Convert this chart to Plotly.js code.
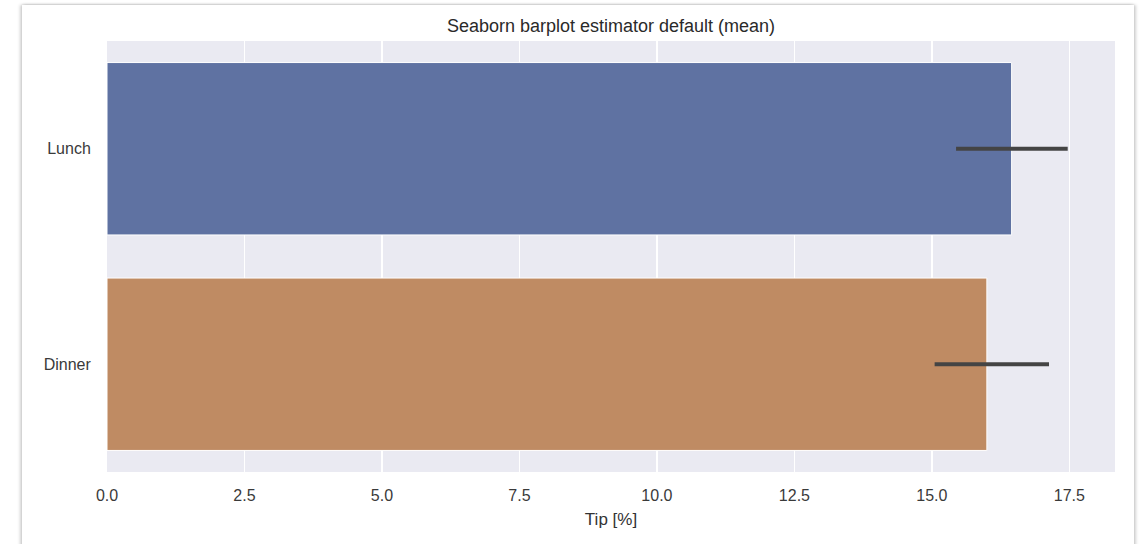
<!DOCTYPE html>
<html>
<head>
<meta charset="utf-8">
<script src="https://cdn.plot.ly/plotly-3.0.1.min.js"></script>
<style>
  html, body { margin: 0; padding: 0; background: #ffffff; }
  body { width: 1147px; height: 544px; position: relative; overflow: hidden; }
  #card {
    position: absolute; left: 22px; top: 5px; width: 1112px; height: 560px;
    background: #ffffff;
    box-shadow: -2px 0 3px rgba(0,0,0,0.18), 2px 0 3px rgba(0,0,0,0.18), 0 -1px 2px rgba(0,0,0,0.06);
  }
  #chart { position: absolute; left: 0; top: 0; width: 1147px; height: 544px; }
</style>
</head>
<body>
<div id="card"></div>
<div id="chart"></div>
<script>
// Mean tip percentage per meal time, with 95% confidence interval bounds
const categories = ["Lunch", "Dinner"];
const meanTip = [16.45, 16.0];
const ciLow = [15.44, 15.05];
const ciHigh = [17.47, 17.13];
const barColors = ["#5f72a2", "#bf8b63"];
const xTickVals = [0, 2.5, 5, 7.5, 10, 12.5, 15, 17.5];
const xTickText = ["0.0", "2.5", "5.0", "7.5", "10.0", "12.5", "15.0", "17.5"];

const trace = {
  type: "bar",
  orientation: "h",
  y: categories,
  x: meanTip,
  width: 0.8,
  marker: { color: barColors, line: { color: "#ffffff", width: 1 } },
  error_x: {
    type: "data",
    symmetric: false,
    array: meanTip.map((m, i) => ciHigh[i] - m),
    arrayminus: meanTip.map((m, i) => m - ciLow[i]),
    color: "#444444",
    thickness: 3.8,
    width: 0
  },
  hoverinfo: "x+y"
};

const font = "'Liberation Sans', Arial, sans-serif";

const layout = {
  width: 1147,
  height: 544,
  margin: { l: 107, r: 32, t: 41, b: 72 },
  paper_bgcolor: "rgba(0,0,0,0)",
  plot_bgcolor: "#eaeaf2",
  showlegend: false,
  bargap: 0.2,
  font: { family: font, color: "#333333", size: 16 },
  title: {
    text: "Seaborn barplot estimator default (mean)",
    font: { family: font, size: 18, color: "#2a2a2a" },
    x: 0.5, xref: "paper", xanchor: "center",
    y: 1, yref: "paper", yanchor: "bottom", pad: { b: 9 }
  },
  xaxis: {
    range: [0, 18.33],
    tickvals: xTickVals,
    ticktext: xTickText,
    showgrid: true,
    gridcolor: "#ffffff",
    gridwidth: 1.5,
    zeroline: false,
    showline: false,
    ticks: "outside",
    ticklen: 9,
    tickcolor: "rgba(0,0,0,0)",
    tickfont: { family: font, size: 16, color: "#3a3a3a" },
    title: { text: "Tip [%]", font: { family: font, size: 17, color: "#333333" }, standoff: 9 }
  },
  yaxis: {
    type: "category",
    categoryorder: "array",
    categoryarray: categories,
    autorange: "reversed",
    range: [1.5, -0.5],
    showgrid: false,
    zeroline: false,
    showline: false,
    ticks: "outside",
    ticklen: 12,
    tickcolor: "rgba(0,0,0,0)",
    tickfont: { family: font, size: 16, color: "#3a3a3a" }
  }
};

Plotly.newPlot("chart", [trace], layout, { displayModeBar: false, staticPlot: true });
</script>
</body>
</html>
